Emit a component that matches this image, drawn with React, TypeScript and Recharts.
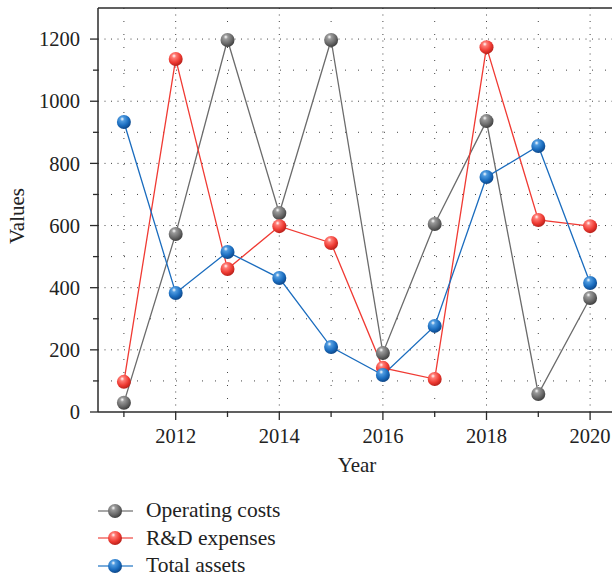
import { LineChart, Line, XAxis, YAxis, ReferenceLine, Label } from "recharts";

// values
const years = [2011, 2012, 2013, 2014, 2015, 2016, 2017, 2018, 2019, 2020];
const operatingCosts = [30, 573, 1197, 640, 1197, 190, 605, 936, 58, 367];
const rdExpenses = [97, 1136, 460, 598, 544, 142, 106, 1174, 618, 598];
const totalAssets = [933, 383, 515, 431, 209, 119, 277, 756, 856, 415];

const yTicks = [0, 100, 200, 300, 400, 500, 600, 700, 800, 900, 1000, 1100, 1200];
const yGridMajor = [200, 400, 600, 800, 1000, 1200];
const yGridMinor = [100, 300, 500, 700, 900, 1100];
const xGridMajor = [2012, 2014, 2016, 2018, 2020];
const xGridMinor = [2011, 2013, 2015, 2017, 2019];

const data = years.map((year, i) => ({
  year,
  ops: operatingCosts[i],
  rd: rdExpenses[i],
  assets: totalAssets[i],
}));

const FONT = "'Liberation Serif', 'DejaVu Serif', serif";
const AXIS = "#2b2b2b";

const series = [
  { key: "ops", name: "Operating costs", color: "#6b6b6b", light: "#8a8a8a", grad: "ballGray" },
  { key: "rd", name: "R&D expenses", color: "#f03a33", light: "#f26b66", grad: "ballRed" },
  { key: "assets", name: "Total assets", color: "#1a6cbe", light: "#4b8fcf", grad: "ballBlue" },
];

const ballStops: Record<string, string[]> = {
  ballGray: ["#ffffff", "#9a9a9a", "#6a6a6a", "#3e3e3e"],
  ballRed: ["#ffffff", "#ff7b74", "#ee3a32", "#b51f19"],
  ballBlue: ["#ffffff", "#4f9be0", "#1a6cbe", "#0d4586"],
};

const Gradients = ({ prefix = "" }: { prefix?: string }) => (
  <defs>
    {Object.keys(ballStops).map((id) => (
      <radialGradient key={id} id={prefix + id} cx="38%" cy="32%" r="70%" fx="38%" fy="28%">
        <stop offset="0%" stopColor={ballStops[id][0]} />
        <stop offset="22%" stopColor={ballStops[id][1]} />
        <stop offset="65%" stopColor={ballStops[id][2]} />
        <stop offset="100%" stopColor={ballStops[id][3]} />
      </radialGradient>
    ))}
  </defs>
);

const YTick = ({ x, y, payload }: any) => {
  const major = payload.value % 200 === 0;
  const len = major ? 8 : 5;
  return (
    <g>
      <line x1={x - len} x2={x} y1={y} y2={y} stroke={AXIS} strokeWidth={1.3} />
      {major && (
        <text x={x - 18} y={y} dy="0.35em" textAnchor="end" fontFamily={FONT} fontSize={20.5} fill="#222">
          {payload.value}
        </text>
      )}
    </g>
  );
};

const XTick = ({ x, y, payload }: any) => {
  const major = payload.value % 2 === 0;
  const len = major ? 8 : 5;
  return (
    <g>
      <line x1={x} x2={x} y1={y} y2={y + len} stroke={AXIS} strokeWidth={1.3} />
      {major && (
        <text x={x} y={y + 31} textAnchor="middle" fontFamily={FONT} fontSize={20.5} fill="#222">
          {payload.value}
        </text>
      )}
    </g>
  );
};

const makeDot = (grad: string) => (p: any) => (
  <circle key={`${grad}-${p.index}`} cx={p.cx} cy={p.cy} r={7} fill={`url(#${grad})`} />
);

const ChartLegend = () => (
  <div style={{ position: "absolute", left: 96, top: 497 }}>
    {series.map((s) => (
      <div key={s.key} style={{ display: "flex", alignItems: "center", height: 27.5 }}>
        <svg width={40} height={20}>
          <Gradients prefix="lg-" />
          <line x1={2} x2={37} y1={10} y2={10} stroke={s.light} strokeWidth={1.5} />
          <circle cx={19} cy={10} r={7} fill={`url(#lg-${s.grad})`} />
        </svg>
        <span style={{ fontFamily: FONT, fontSize: 21.5, color: "#222", marginLeft: 10 }}>{s.name}</span>
      </div>
    ))}
  </div>
);

export default function App() {
  return (
    <div style={{ position: "absolute", left: 0, top: 0, width: 612, height: 577, overflow: "hidden", background: "#fff" }}>
      <LineChart width={616} height={577} data={data} margin={{ top: 8, right: 0, bottom: 95, left: 0 }}>
        <Gradients />
        <XAxis
          dataKey="year"
          type="number"
          domain={[2010.5, 2020.5]}
          ticks={years}
          allowDataOverflow
          height={70}
          tickSize={0}
          tickMargin={0}
          tickLine={false}
          tick={<XTick />}
          axisLine={{ stroke: AXIS, strokeWidth: 1.5 }}
        >
          <Label
            content={(props: any) => (
              <text
                x={props.viewBox.x + props.viewBox.width / 2}
                y={props.viewBox.y + 60}
                textAnchor="middle"
                fontFamily={FONT}
                fontSize={21}
                fill="#222"
              >
                Year
              </text>
            )}
          />
        </XAxis>
        <YAxis
          type="number"
          domain={[0, 1300]}
          ticks={yTicks}
          allowDataOverflow
          width={98}
          tickSize={0}
          tickMargin={0}
          tickLine={false}
          tick={<YTick />}
          axisLine={{ stroke: AXIS, strokeWidth: 1.5 }}
        >
          <Label
            content={(props: any) => {
              const cx = props.viewBox.x + 24;
              const cy = props.viewBox.y + props.viewBox.height / 2 + 6;
              return (
                <text
                  x={cx}
                  y={cy}
                  transform={`rotate(-90 ${cx} ${cy})`}
                  textAnchor="middle"
                  fontFamily={FONT}
                  fontSize={21}
                  fill="#222"
                >
                  Values
                </text>
              );
            }}
          />
        </YAxis>

        {yGridMinor.map((v) => (
          <ReferenceLine key={`ym${v}`} y={v} stroke="#444" strokeWidth={1} strokeDasharray="1 12" />
        ))}
        {yGridMajor.map((v) => (
          <ReferenceLine key={`yM${v}`} y={v} stroke="#444" strokeWidth={1} strokeDasharray="1 5.5" />
        ))}
        {xGridMinor.map((v) => (
          <ReferenceLine key={`xm${v}`} x={v} stroke="#444" strokeWidth={1} strokeDasharray="1 12" />
        ))}
        {xGridMajor.map((v) => (
          <ReferenceLine key={`xM${v}`} x={v} stroke="#444" strokeWidth={1} strokeDasharray="1 5.5" />
        ))}
        <ReferenceLine y={1300} stroke={AXIS} strokeWidth={1.5} />

        {series.map((s) => (
          <Line
            key={s.key}
            dataKey={s.key}
            name={s.name}
            type="linear"
            stroke={s.color}
            strokeWidth={1.3}
            dot={makeDot(s.grad)}
            activeDot={false}
            isAnimationActive={false}
          />
        ))}
      </LineChart>
      <ChartLegend />
    </div>
  );
}
